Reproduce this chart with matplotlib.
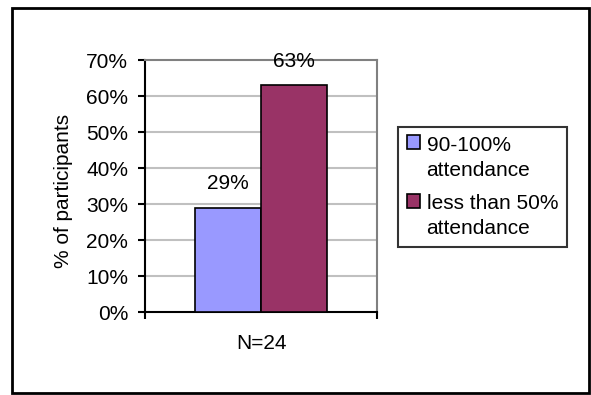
import matplotlib
matplotlib.use("Agg")
import matplotlib.pyplot as plt
from matplotlib.patches import Rectangle
from matplotlib.ticker import FixedLocator
from matplotlib.legend_handler import HandlerPatch

plt.rcParams['font.family'] = ['Liberation Sans', 'DejaVu Sans']

categories = ["N=24"]
series_names = ["90-100%\nattendance", "less than 50%\nattendance"]
series_values = [[29], [63]]
series_colors = ["#9999FF", "#993366"]
y_ticks = [0, 10, 20, 30, 40, 50, 60, 70]

W, H = 591, 395
fig = plt.figure(figsize=(W / 100, H / 100), dpi=100)
fig.patch.set_facecolor("white")

def px_rect(x0, y0, x1, y1):
    # convert pixel box (top-left origin) to figure fraction
    return [x0 / W, 1 - y1 / H, (x1 - x0) / W, (y1 - y0) / H]

# outer chart frame
fig.patches.append(Rectangle((12 / W, 1 - 393 / H), (589 - 12) / W, (393 - 8) / H,
                             transform=fig.transFigure, fill=False,
                             edgecolor="black", linewidth=2.0, zorder=0))

ax = fig.add_axes(px_rect(145, 60, 377, 312))
fs = 15
line_spacing = 1.4


class FirstLineSquare(HandlerPatch):
    """Legend key drawn beside the first line of a two-line label."""
    def create_artists(self, legend, orig_handle, xdescent, ydescent,
                       width, height, fontsize, trans):
        shift = fontsize * 0.75
        p = Rectangle((-xdescent, -ydescent + shift), width, height)
        self.update_prop(p, orig_handle, legend)
        p.set_transform(trans)
        return [p]


bar_w = 0.285
n = len(series_names)
handles = []
for i, (name, vals, col) in enumerate(zip(series_names, series_values, series_colors)):
    offs = (i - (n - 1) / 2) * bar_w
    xs = [k + offs for k in range(len(categories))]
    bars = ax.bar(xs, vals, width=bar_w, color=col, edgecolor="black",
                  linewidth=1.2, label=name, zorder=3)
    handles.append(bars.patches[0])
    for b, v in zip(bars, vals):
        ax.annotate(f"{v}%", (b.get_x() + b.get_width() / 2, v),
                    xytext=(0, 17), textcoords="offset points",
                    ha="center", va="center", fontsize=fs, zorder=4)

ax.set_xlim(-0.5, len(categories) - 0.5)
ax.set_ylim(0, 70)
ax.set_yticks(y_ticks)
ax.set_yticklabels([f"{t}%" for t in y_ticks], fontsize=fs)
ax.tick_params(axis="y", direction="out", length=5, width=1.5, pad=7)

ax.set_xticks(range(len(categories)))
ax.set_xticklabels(categories, fontsize=fs)
ax.tick_params(axis="x", which="major", length=0, pad=16)
ax.xaxis.set_minor_locator(FixedLocator([-0.5, len(categories) - 0.5]))
ax.tick_params(axis="x", which="minor", direction="out", length=5, width=1.5)

for y in y_ticks[1:-1]:
    ax.axhline(y, color="#C0C0C0", linewidth=1.5, zorder=1)

ax.spines["left"].set_linewidth(1.5)
ax.spines["bottom"].set_linewidth(1.5)
ax.spines["left"].set_color("black")
ax.spines["bottom"].set_color("black")
ax.spines["top"].set_color("#808080")
ax.spines["right"].set_color("#808080")
ax.spines["top"].set_linewidth(1.5)
ax.spines["right"].set_linewidth(1.5)
for s in ax.spines.values():
    s.set_zorder(2)

ax.set_ylabel("% of participants", fontsize=fs)
ax.yaxis.set_label_coords((63 - 145) / 232, 0.48)
ax.yaxis.label.set_verticalalignment("center")

leg = ax.legend(handles, series_names,
                loc="upper left", bbox_to_anchor=(398 / W, 1 - 127 / H),
                bbox_transform=fig.transFigure, borderaxespad=0,
                fontsize=fs, frameon=True, fancybox=False, shadow=False,
                handlelength=0.65, handleheight=0.65, handletextpad=0.3,
                borderpad=0.42, labelspacing=0.7,
                handler_map={Rectangle: FirstLineSquare()})
leg.get_frame().set_edgecolor("black")
leg.get_frame().set_linewidth(1.5)
for t in leg.get_texts():
    t.set_linespacing(line_spacing)

fig.savefig("out.png", dpi=100, facecolor="white")
